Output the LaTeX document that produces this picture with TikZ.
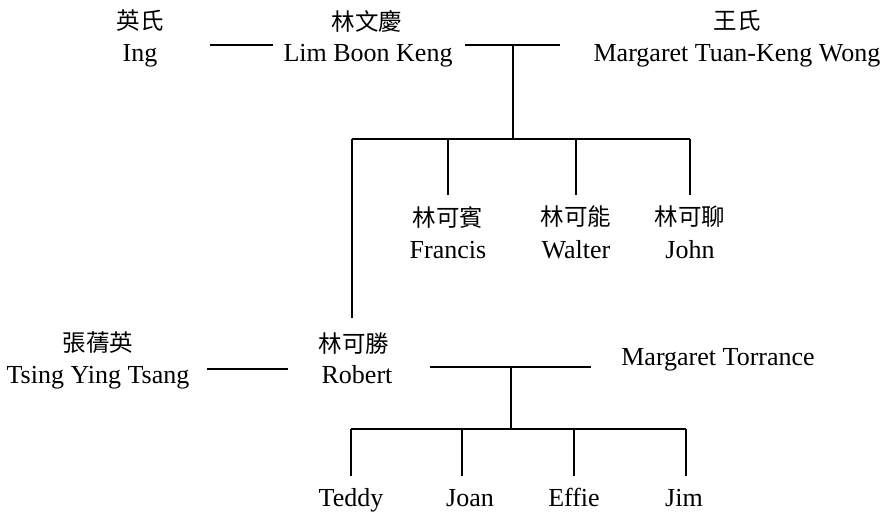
\documentclass[tikz,border=0pt]{standalone}
\usepackage{fontspec}
\setmainfont{Liberation Serif}
\newfontfamily\cjk{Noto Sans CJK TC}
\begin{document}
\begin{tikzpicture}[x=1pt,y=-1pt,
  en/.style={anchor=base,inner sep=0pt,font=\fontsize{26}{30}\selectfont},
  cn/.style={anchor=center,inner sep=0pt,font=\cjk\fontsize{23.5}{28}\selectfont},
  ln/.style={line width=1.9pt}]
\useasboundingbox (0,0) rectangle (891,515);
% generation 1
\node[cn] (ingc) at (140,21) {英氏};
\node[en] (ing) at (140,61) {Ing};
\node[cn] (limc) at (367,21) {林文慶};
\node[en] (lim) at (368,61) {Lim Boon Keng};
\node[cn] (wongc) at (737,21) {王氏};
\node[en] (wong) at (737,61) {Margaret Tuan-Keng Wong};
\coordinate (m1a) at (210,45);
\coordinate (m1b) at (273,45);
\coordinate (m2a) at (465,45);
\coordinate (m2b) at (560,45);
\coordinate (j1) at (513,45);
\coordinate (j1d) at (513,139);
\coordinate (h1l) at (352,139);
\coordinate (h1r) at (690,139);
\draw[ln] (m1a) -- (m1b);
\draw[ln] (m2a) -- (m2b);
\draw[ln] (j1) -- (j1d);
\draw[ln] (h1l) -- (h1r);
% generation 2
\node[cn] (francisc) at (448,217) {林可賓};
\node[en] (francis) at (448,258) {Francis};
\node[cn] (walterc) at (576,217) {林可能};
\node[en] (walter) at (576,258) {Walter};
\node[cn] (johnc) at (690,217) {林可聊};
\node[en] (john) at (690,258) {John};
\coordinate (f1) at (448,139); \coordinate (f2) at (448,195);
\coordinate (w1) at (576,139); \coordinate (w2) at (576,195);
\coordinate (jo1) at (690,139); \coordinate (jo2) at (690,195);
\coordinate (r2) at (352,318);
\draw[ln] (f1) -- (f2);
\draw[ln] (w1) -- (w2);
\draw[ln] (jo1) -- (jo2);
\draw[ln] (h1l) -- (r2);
\node[cn] (tsangc) at (98,343) {張蒨英};
\node[en] (tsang) at (98,383) {Tsing Ying Tsang};
\node[cn] (robertc) at (354,344) {林可勝};
\node[en] (robert) at (357,383) {Robert};
\node[en] (torr) at (718,365) {Margaret Torrance};
\coordinate (m3a) at (207,369);
\coordinate (m3b) at (288,369);
\coordinate (m4a) at (430,367);
\coordinate (m4b) at (591,367);
\coordinate (j2) at (511,367);
\coordinate (j2d) at (511,429);
\coordinate (h2l) at (351,429);
\coordinate (h2r) at (686,429);
\draw[ln] (m3a) -- (m3b);
\draw[ln] (m4a) -- (m4b);
\draw[ln] (j2) -- (j2d);
\draw[ln] (h2l) -- (h2r);
% generation 3
\node[en] (teddy) at (351,506) {Teddy};
\node[en] (joan) at (470,506) {Joan};
\node[en] (effie) at (574,506) {Effie};
\node[en] (jim) at (684,506) {Jim};
\coordinate (t2) at (351,476);
\coordinate (jn1) at (462,429); \coordinate (jn2) at (462,476);
\coordinate (e1) at (574,429); \coordinate (e2) at (574,476);
\coordinate (ji1) at (686,429); \coordinate (ji2) at (686,476);
\draw[ln] (h2l) -- (t2);
\draw[ln] (jn1) -- (jn2);
\draw[ln] (e1) -- (e2);
\draw[ln] (ji1) -- (ji2);
\end{tikzpicture}
\end{document}
